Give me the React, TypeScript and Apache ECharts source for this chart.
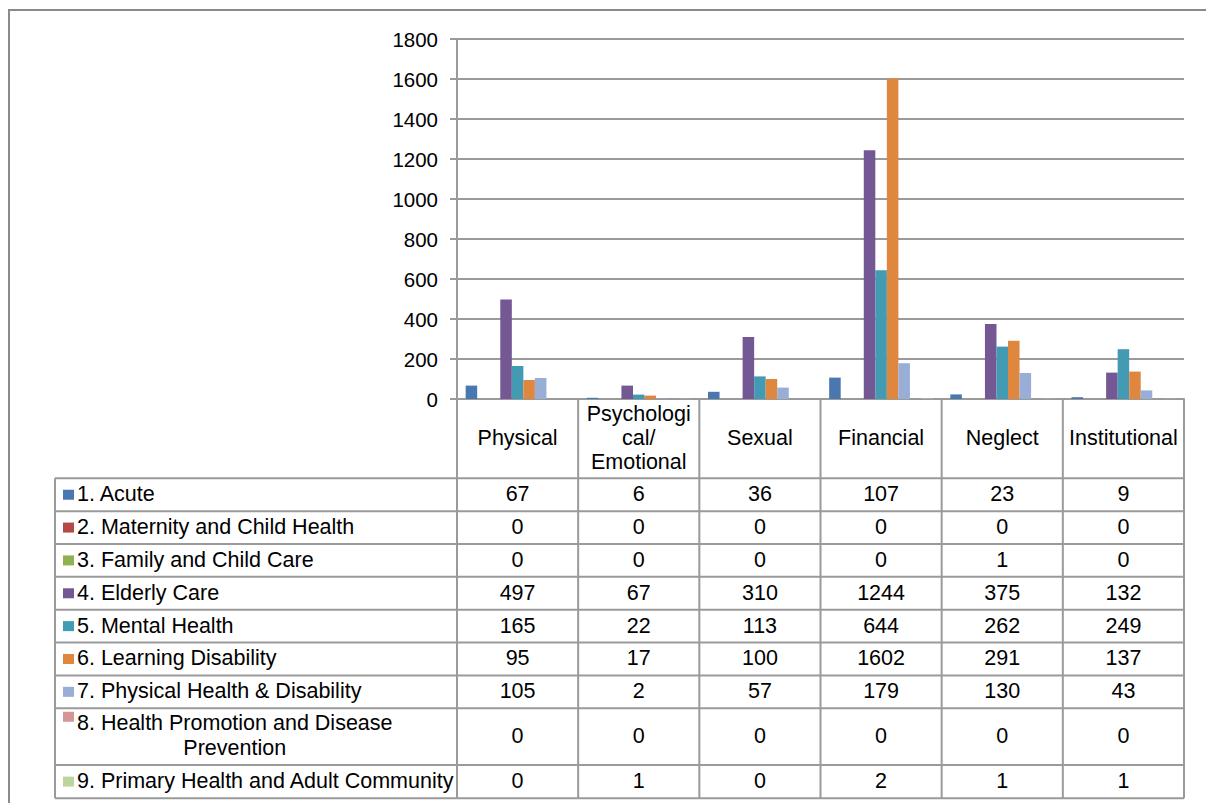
import React, { useEffect, useRef } from 'react';
import * as echarts from 'echarts';

const categories = ['Physical', 'Psychologi\ncal/\nEmotional', 'Sexual', 'Financial', 'Neglect', 'Institutional'];
const seriesNames = [
  '1. Acute',
  '2. Maternity and Child Health',
  '3. Family and Child Care',
  '4. Elderly Care',
  '5. Mental Health',
  '6. Learning Disability',
  '7. Physical Health & Disability',
  '8. Health Promotion and Disease\nPrevention',
  '9. Primary Health and Adult Community',
];
const acute = [67, 6, 36, 107, 23, 9];
const maternity = [0, 0, 0, 0, 0, 0];
const familyChildCare = [0, 0, 0, 0, 1, 0];
const elderlyCare = [497, 67, 310, 1244, 375, 132];
const mentalHealth = [165, 22, 113, 644, 262, 249];
const learningDisability = [95, 17, 100, 1602, 291, 137];
const physicalHealth = [105, 2, 57, 179, 130, 43];
const healthPromotion = [0, 0, 0, 0, 0, 0];
const primaryHealth = [0, 1, 0, 2, 1, 1];
const seriesValues = [acute, maternity, familyChildCare, elderlyCare, mentalHealth, learningDisability, physicalHealth, healthPromotion, primaryHealth];
const colors = ['#4A77B0', '#B44A47', '#90B152', '#735893', '#429AB3', '#E0873F', '#98AED7', '#D49694', '#BDD49D'];
const yMin = 0;
const yMax = 1800;
const yInterval = 200;

const FONT = '"Liberation Sans", Arial, sans-serif';
const TFS = 21.5;
const W = 1206;
const H = 803;
const GRID_LEFT = 457;
const GRID_RIGHT = 1184;
const GRID_TOP = 39;
const AXIS_Y = 399;
const TABLE_LEFT = 55;
const HEADER_BOTTOM = 478.3;
const ROW_H = [32.85, 32.85, 32.85, 32.85, 32.85, 32.85, 32.85, 56.7, 33.3];
const LINE_COLOR = '#9a9a9a';

function measure(text: string, size: number) {
  const c = document.createElement('canvas').getContext('2d');
  if (!c) return text.length * size * 0.5;
  c.font = `${size}px "Liberation Sans", Arial, sans-serif`;
  return c.measureText(text).width;
}

export default function App() {
  const ref = useRef<HTMLDivElement>(null);
  useEffect(() => {
    if (!ref.current) return;
    const chart = echarts.init(ref.current, undefined, { renderer: 'svg' });
    const colW = (GRID_RIGHT - GRID_LEFT) / categories.length;
    const colX = (k: number) => GRID_LEFT + k * colW;
    const rowTops: number[] = [];
    let y = HEADER_BOTTOM;
    ROW_H.forEach((h) => { rowTops.push(y); y += h; });
    const tableBottom = y;

    const g: any[] = [];
    g.push({ type: 'rect', silent: true, shape: { x: 9, y: 10, width: 1400, height: 1000 }, style: { fill: 'none', stroke: '#8a8a8a', lineWidth: 2 } });
    for (let k = 0; k <= categories.length; k++) {
      g.push({ type: 'line', silent: true, shape: { x1: colX(k), y1: AXIS_Y, x2: colX(k), y2: tableBottom }, style: { stroke: LINE_COLOR, lineWidth: 2 } });
    }
    g.push({ type: 'line', silent: true, shape: { x1: TABLE_LEFT, y1: HEADER_BOTTOM, x2: TABLE_LEFT, y2: tableBottom }, style: { stroke: LINE_COLOR, lineWidth: 2 } });
    const hLines = [HEADER_BOTTOM, ...rowTops.map((t, i) => t + ROW_H[i])];
    hLines.forEach((yy) => {
      g.push({ type: 'line', silent: true, shape: { x1: TABLE_LEFT, y1: yy, x2: GRID_RIGHT, y2: yy }, style: { stroke: LINE_COLOR, lineWidth: 2 } });
    });
    categories.forEach((c, k) => {
      g.push({ type: 'text', silent: true, x: colX(k) + colW / 2, y: (AXIS_Y + HEADER_BOTTOM) / 2 - 1, style: { text: c, font: `${TFS}px ${FONT}`, fill: '#000', align: 'center', verticalAlign: 'middle', lineHeight: 24 } });
    });
    seriesNames.forEach((name, i) => {
      const top = rowTops[i];
      const h = ROW_H[i];
      const cy = top + h / 2;
      const multi = name.includes('\n');
      const keyCy = multi ? top + 8.5 : cy;
      g.push({ type: 'rect', silent: true, shape: { x: 63, y: keyCy - 5, width: 11, height: 10 }, style: { fill: colors[i] } });
      if (multi) {
        const w1 = measure(name.split('\n')[0], TFS);
        g.push({ type: 'text', silent: true, x: 77 + w1 / 2, y: cy - 1.5, style: { text: name, font: `${TFS}px ${FONT}`, fill: '#000', align: 'center', verticalAlign: 'middle', lineHeight: 25 } });
      } else {
        g.push({ type: 'text', silent: true, x: 77, y: cy - 0.5, style: { text: name, font: `${TFS}px ${FONT}`, fill: '#000', align: 'left', verticalAlign: 'middle' } });
      }
      seriesValues[i].forEach((v, k) => {
        g.push({ type: 'text', silent: true, x: colX(k) + colW / 2, y: cy - 0.5, style: { text: String(v), font: `${TFS}px ${FONT}`, fill: '#000', align: 'center', verticalAlign: 'middle' } });
      });
    });

    chart.setOption({
      animation: false,
      backgroundColor: '#fff',
      grid: { left: GRID_LEFT, right: W - GRID_RIGHT, top: GRID_TOP, bottom: H - AXIS_Y, outerBoundsMode: 'none' },
      xAxis: {
        type: 'category',
        data: categories,
        axisLabel: { show: false },
        axisTick: { show: false },
        axisLine: { show: true, lineStyle: { color: LINE_COLOR, width: 2 } },
      },
      yAxis: {
        type: 'value',
        min: yMin,
        max: yMax,
        interval: yInterval,
        axisLine: { show: true, lineStyle: { color: LINE_COLOR, width: 2 } },
        axisTick: { show: true, length: 7, lineStyle: { color: LINE_COLOR, width: 2 } },
        axisLabel: { fontSize: 20.5, color: '#000', fontFamily: FONT, margin: 19, formatter: (v: number) => String(v) },
        splitLine: { show: true, lineStyle: { color: LINE_COLOR, width: 2 } },
      },
      series: seriesNames.map((n, i) => ({
        type: 'bar',
        name: n,
        data: seriesValues[i],
        barGap: '0%',
        barCategoryGap: '14.3%',
        itemStyle: { color: colors[i] },
      })),
      graphic: g,
    });
    return () => chart.dispose();
  }, []);
  return <div ref={ref} style={{ position: 'absolute', left: 0, top: 0, width: W, height: H }} />;
}
